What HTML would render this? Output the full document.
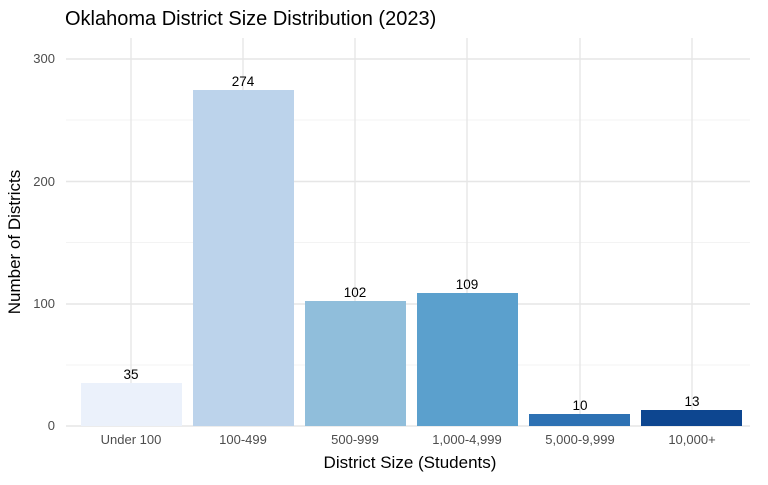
<!DOCTYPE html>
<html><head><meta charset="utf-8"><style>body{margin:0;background:#fff}</style></head><body>
<svg width="768" height="480" xmlns="http://www.w3.org/2000/svg" font-family="Liberation Sans, Arial, sans-serif">
<rect width="768" height="480" fill="#fff"/>
<g stroke="#f3f3f3" stroke-width="1">
<line x1="66" x2="750" y1="365" y2="365"/><line x1="66" x2="750" y1="242.5" y2="242.5"/><line x1="66" x2="750" y1="120" y2="120"/>
</g>
<g stroke="#e6e6e6" stroke-width="1.4">
<line x1="66" x2="750" y1="426" y2="426"/><line x1="66" x2="750" y1="304" y2="304"/><line x1="66" x2="750" y1="181.5" y2="181.5"/><line x1="66" x2="750" y1="59" y2="59"/>
<line x1="131" x2="131" y1="38" y2="426"/><line x1="243" x2="243" y1="38" y2="426"/><line x1="355" x2="355" y1="38" y2="426"/><line x1="467" x2="467" y1="38" y2="426"/><line x1="580" x2="580" y1="38" y2="426"/><line x1="692" x2="692" y1="38" y2="426"/>
</g>
<rect x="81" y="383" width="101" height="43" fill="#ebf1fb"/>
<rect x="193" y="90" width="101" height="336" fill="#bcd3eb"/>
<rect x="305" y="301" width="101" height="125" fill="#90bedb"/>
<rect x="417" y="293" width="101" height="133" fill="#5ba0cd"/>
<rect x="529" y="414" width="101" height="12" fill="#2d71b3"/>
<rect x="641" y="410" width="101" height="16" fill="#0d4690"/>
<g font-size="13.5" fill="#000" text-anchor="middle">
<text x="131" y="379">35</text><text x="243" y="86">274</text><text x="355" y="297">102</text><text x="467" y="289">109</text><text x="580" y="410">10</text><text x="692" y="406">13</text>
</g>
<g font-size="13" fill="#4d4d4d" text-anchor="end">
<text x="55" y="430">0</text><text x="55" y="308">100</text><text x="55" y="186">200</text><text x="55" y="63">300</text>
</g>
<g font-size="13" fill="#4d4d4d" text-anchor="middle">
<text x="131" y="444">Under 100</text><text x="243" y="444">100-499</text><text x="355" y="444">500-999</text><text x="467" y="444">1,000-4,999</text><text x="580" y="444">5,000-9,999</text><text x="692" y="444">10,000+</text>
</g>
<text x="410" y="468" font-size="17" text-anchor="middle">District Size (Students)</text>
<text transform="translate(20,242) rotate(-90)" font-size="17" text-anchor="middle">Number of Districts</text>
<text x="65" y="25" font-size="20">Oklahoma District Size Distribution (2023)</text>
</svg>
</body></html>
